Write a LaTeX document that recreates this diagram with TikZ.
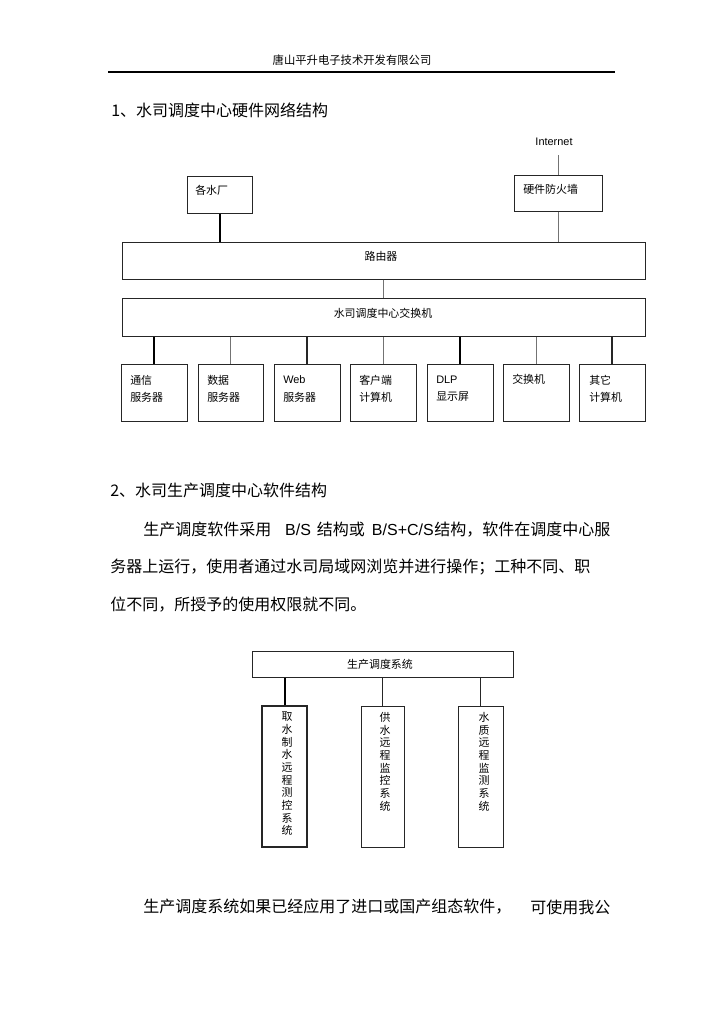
\documentclass[tikz,border=0pt]{standalone}
\usepackage{fontspec}
\setmainfont{Noto Sans CJK SC}
\newfontfamily\lat{Liberation Sans}
\usetikzlibrary{fit}
\tikzset{
  box/.style={draw=black!85, line width=0.75pt, inner sep=0pt},
  thinln/.style={draw=black!55, line width=0.75pt},
  midln/.style={draw=black!85, line width=1.1pt},
  thickln/.style={draw=black, line width=1.5pt},
  lbl/.style={inner sep=0pt, anchor=west, font=\fontsize{8.2pt}{10pt}\selectfont},
  clbl/.style={inner sep=0pt, font=\fontsize{8.2pt}{10pt}\selectfont},
  vlbl/.style={inner sep=0pt, anchor=north, align=center, font=\fontsize{8.2pt}{9.5pt}\selectfont},
  body/.style={inner sep=0pt, anchor=west, font=\fontsize{12pt}{14pt}\selectfont},
  chain/.style={inner sep=0pt, anchor=base west, font=\fontsize{12pt}{14pt}\selectfont},
}
\begin{document}
\begin{tikzpicture}[x=0.75pt,y=-0.75pt]
\useasboundingbox (0,0) rectangle (724,1024);
\fill[white] (0,0) rectangle (724,1024);

% header
\node[clbl, font=\fontsize{8.5pt}{10pt}\selectfont] (hdr) at (352,60) {唐山平升电子技术开发有限公司};
\coordinate (hl) at (108,72);
\coordinate (hr) at (615,72);
\draw[line width=0.8pt] (hl) -- (hr);

% section 1
\node[body] (t1) at (111,110) {1、水司调度中心硬件网络结构};

\node[clbl, font=\fontsize{8.2pt}{10pt}\lat] (inet) at (554,142) {Internet};
\node[box, fit={(514,175) (602,211)}] (fw) {};
\node[lbl] (fwt) at (523,189) {硬件防火墙};
\node[box, fit={(187,176) (252,213)}] (gs) {};
\node[lbl] (gst) at (195,190) {各水厂};

\node[box, fit={(122,242) (645,279)}] (rt) {};
\node[clbl] (rtt) at (381,256) {路由器};
\node[box, fit={(122,298) (645,336)}] (sw) {};
\node[clbl] (swt) at (383,313) {水司调度中心交换机};

\coordinate (inetend) at (558,155);
\draw[thinln] (inetend) -- (fw.north);
\draw[thickln] (gs.south) -- (gs.south |- rt.north);
\draw[thinln] (fw.south) -- (fw.south |- rt.north);
\draw[thinln] (rt.south) -- (sw.north);

% bottom boxes
\node[box, fit={(121,364) (187,421)}] (b1) {};
\node[box, fit={(198,364) (263,421)}] (b2) {};
\node[box, fit={(274,364) (340,421)}] (b3) {};
\node[box, fit={(350,364) (416,421)}] (b4) {};
\node[box, fit={(427,364) (493,421)}] (b5) {};
\node[box, fit={(503,364) (569,421)}] (b6) {};
\node[box, fit={(579,364) (645,421)}] (b7) {};

\draw[thickln] (b1.north) -- (b1.north |- sw.south);
\draw[thinln]  (b2.north) -- (b2.north |- sw.south);
\draw[midln]   (b3.north) -- (b3.north |- sw.south);
\draw[thinln]  (b4.north) -- (b4.north |- sw.south);
\draw[thickln] (b5.north) -- (b5.north |- sw.south);
\draw[thinln]  (b6.north) -- (b6.north |- sw.south);
\draw[midln]   (b7.north) -- (b7.north |- sw.south);

\node[lbl] (b1a) at (130,380) {通信};
\node[lbl] (b1b) at (130,397) {服务器};
\node[lbl] (b2a) at (207,380) {数据};
\node[lbl] (b2b) at (207,397) {服务器};
\node[lbl, font=\fontsize{8.2pt}{10pt}\lat] (b3a) at (283,380) {Web};
\node[lbl] (b3b) at (283,397) {服务器};
\node[lbl] (b4a) at (359,380) {客户端};
\node[lbl] (b4b) at (359,397) {计算机};
\node[lbl, font=\fontsize{8.2pt}{10pt}\lat] (b5a) at (436,380) {DLP};
\node[lbl] (b5b) at (436,397) {显示屏};
\node[lbl] (b6a) at (512,379) {交换机};
\node[lbl] (b7a) at (589,380) {其它};
\node[lbl] (b7b) at (589,397) {计算机};

% section 2
\node[body] (t2) at (110,490) {2、水司生产调度中心软件结构};
\node[body] (p1a) at (143,529) {生产调度软件采用};
\node[chain, font=\fontsize{12pt}{14pt}\lat] (p1b) at ([xshift=10pt]p1a.base east) {B/S};
\node[chain] (p1c) at ([xshift=4pt]p1b.base east) {结构或};
\node[chain, font=\fontsize{12pt}{14pt}\lat] (p1d) at ([xshift=5pt]p1c.base east) {B/S+C/S};
\node[chain] (p1e) at (p1d.base east) {结构，软件在调度中心服};
\node[body] (p2) at (110,567) {务器上运行，使用者通过水司局域网浏览并进行操作；工种不同、职};
\node[body] (p3) at (110,605) {位不同，所授予的使用权限就不同。};

% software diagram
\node[box, fit={(252,651) (513,677)}] (sys) {};
\node[clbl] (syst) at (380,664) {生产调度系统};
\node[box, line width=1.2pt, fit={(262,706) (307,847)}] (v1) {};
\node[box, fit={(361,706) (404,847)}] (v2) {};
\node[box, fit={(458,706) (503,847)}] (v3) {};
\draw[thickln] (v1.north) -- (v1.north |- sys.south);
\draw[midln]   (v2.north) -- (v2.north |- sys.south);
\draw[midln]   (v3.north) -- (v3.north |- sys.south);
\node[vlbl] (v1t) at (287,712) {取\\水\\制\\水\\远\\程\\测\\控\\系\\统};
\node[vlbl] (v2t) at (385,712) {供\\水\\远\\程\\监\\控\\系\\统};
\node[vlbl] (v3t) at (484,712) {水\\质\\远\\程\\监\\测\\系\\统};

% last line
\node[body] (q1) at (143,907) {生产调度系统如果已经应用了进口或国产组态软件，};
\node[body] (q2) at (530,907) {可使用我公};
\end{tikzpicture}
\end{document}
